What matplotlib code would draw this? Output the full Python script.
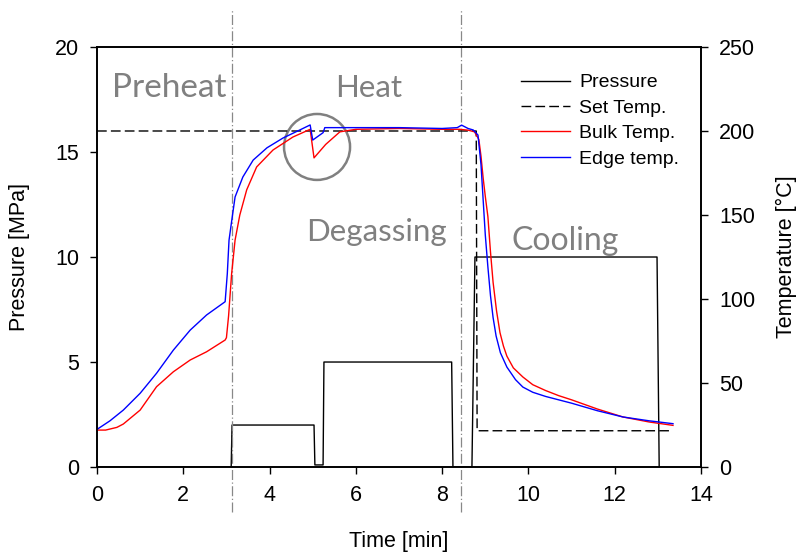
import numpy as np
import matplotlib.pyplot as plt
from matplotlib.patches import Ellipse

# Pressure programme (MPa)
time_p = [0, 3.11, 3.13, 5.03, 5.05, 5.24, 5.26, 8.22, 8.25, 8.69, 8.76, 12.98, 13.03]
pressure = [0, 0, 2, 2, 0.1, 0.1, 5, 5, 0, 0, 10, 10, 0]

# Set temperature (degC)
time_set = [0, 8.79, 8.81, 13.35]
set_temp = [200, 200, 21.6, 21.6]

# Bulk temperature (degC)
time_bulk = [0, 0.2, 0.46, 0.61, 1.0, 1.38, 1.77, 2.16, 2.54, 2.97, 3.0, 3.05, 3.12, 3.2,
             3.31, 3.47, 3.7, 4.08, 4.54, 4.94, 5.03, 5.3, 5.63, 6.0, 7.0, 8.0, 8.4,
             8.6, 8.75, 8.85, 8.9, 8.95, 9.0, 9.06, 9.12, 9.18, 9.26, 9.34, 9.42, 9.5,
             9.65, 9.87, 10.1, 10.4, 10.7, 11.0, 11.6, 12.19, 12.8, 13.35]
bulk_temp = [22, 22, 23.6, 25.6, 33.9, 47.8, 56.7, 63.7, 68.6, 75.6, 77, 90, 115, 135,
             150, 165, 178.6, 188.7, 196.4, 201, 184, 192, 199.5, 201, 201.5, 201, 201,
             200.5, 199.5, 195, 185, 172, 161, 149, 128, 110, 93, 80, 72, 66,
             59, 53.6, 49, 45.5, 42.5, 40, 34.5, 29.8, 26.8, 24.8]

# Edge temperature (degC)
time_edge = [0, 0.3, 0.61, 1.0, 1.38, 1.77, 2.16, 2.54, 2.97, 3.02, 3.06, 3.13, 3.2, 3.38,
             3.62, 3.94, 4.31, 4.7, 4.94, 5.0, 5.24, 5.28, 6.0, 7.0, 8.0, 8.35, 8.45,
             8.6, 8.72, 8.83, 8.9, 8.95, 9.0, 9.06, 9.12, 9.18, 9.25, 9.35, 9.5, 9.7,
             9.87, 10.1, 10.4, 10.7, 11.0, 11.6, 12.19, 12.8, 13.35]
edge_temp = [22.4, 27.5, 33.9, 43.9, 55.8, 69.6, 81.5, 90.5, 98.4, 115, 135, 148, 160.7, 172.6,
             182.7, 190, 195.8, 200.6, 203.6, 194.6, 199, 202, 202, 202, 201.5, 202, 203.5,
             201.5, 200.6, 197.6, 180, 159, 138, 119, 102, 89, 78, 68, 59.5, 52,
             47.6, 44.5, 42, 40, 38, 33.5, 29.8, 27.5, 25.8]

phase_x = [3.12, 8.43]

fig = plt.figure(figsize=(7.97, 5.56), dpi=100)
ax = fig.add_axes([0.1217, 0.160, 0.7579, 0.7555])
ax2 = ax.twinx()

l1, = ax.plot(time_p, pressure, color='black', lw=1.0, label='Pressure')
l2, = ax2.plot(time_set, set_temp, color='black', lw=1.0, dashes=(7, 3), label='Set Temp.')
l3, = ax2.plot(time_bulk, bulk_temp, color='red', lw=1.0, label='Bulk Temp.')
l4, = ax2.plot(time_edge, edge_temp, color='blue', lw=1.0, label='Edge temp.')

# phase boundaries
for xv in phase_x:
    ax.axvline(xv, ymin=-0.107, ymax=1.088, color='#888888', lw=0.9,
               dashes=(8, 2, 1, 2), clip_on=False)

# circle around the dip
ax.add_patch(Ellipse((5.1, 15.24), 1.53, 3.14, fill=False, edgecolor='#808080', lw=1.8))

phase_font = dict(color='#808080', family='Lato', ha='center', va='baseline')
ax.text(1.67, 17.62, 'Preheat', fontsize=24, **phase_font)
ax.text(6.3, 17.62, 'Heat', fontsize=22.5, **phase_font)
ax.text(6.47, 10.76, 'Degassing', fontsize=22.5, **phase_font)
ax.text(10.85, 10.33, 'Cooling', fontsize=23, **phase_font)

ax.set_xlim(0, 14)
ax.set_ylim(0, 20)
ax2.set_ylim(0, 250)
ax.set_xticks(np.arange(0, 15, 2))
ax.set_yticks(np.arange(0, 21, 5))
ax2.set_yticks(np.arange(0, 251, 50))

ax.set_xlabel('Time [min]', fontsize=15.5, family='Liberation Sans', labelpad=18)
ax.set_ylabel('Pressure [MPa]', fontsize=15.5, family='Liberation Sans', labelpad=18)
ax2.set_ylabel('Temperature [°C]', fontsize=15.5, family='Liberation Sans', labelpad=15)

for a in (ax, ax2):
    a.tick_params(labelsize=15.5, length=5, width=1.0, pad=8)
    for lab in a.get_xticklabels() + a.get_yticklabels():
        lab.set_family('Liberation Sans')
    for s in a.spines.values():
        s.set_linewidth(1.2)

ax.legend(handles=[l1, l2, l3, l4], loc='upper right', bbox_to_anchor=(0.993, 0.978),
          frameon=False, prop={'family': 'Liberation Sans', 'size': 14},
          handlelength=2.5, handletextpad=0.5, labelspacing=0.4)

fig.savefig('out.png', dpi=100)
